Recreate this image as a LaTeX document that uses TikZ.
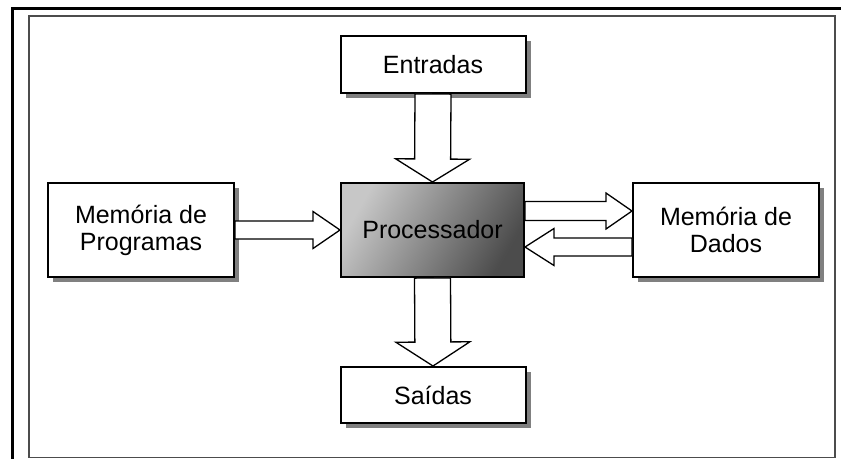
\documentclass[tikz,border=0pt]{standalone}
\usepackage{fontspec}
\setmainfont{Liberation Sans}
\usetikzlibrary{calc,shadows}

\tikzset{
  bloco/.style={draw, line width=2pt, fill=white, inner sep=0pt, align=center,
    minimum width=185pt, minimum height=57pt, font=\fontsize{25}{27}\selectfont,
    drop shadow={shadow xshift=5pt, shadow yshift=-5pt, fill=black!50, opacity=1}},
  cpu/.style={draw, line width=2pt, inner sep=0pt, minimum width=183pt, minimum height=94pt,
    font=\fontsize{25}{27}\selectfont, left color=black!22, right color=black!70, shading angle=60},
  seta/.style={draw, line width=1.3pt, fill=white, line join=miter},
}

% block arrow: from, to, half shaft, half head, head length
\newcommand{\setabloco}[5]{%
  \coordinate (hb) at ($(#2)!#5!(#1)$);
  \draw[seta] ($(#1)!#3!90:(#2)$) -- ($(hb)!#3!-90:(#1)$) -- ($(hb)!#4!-90:(#1)$) -- (#2)
    -- ($(hb)!#4!90:(#1)$) -- ($(hb)!#3!90:(#1)$) -- ($(#1)!#3!-90:(#2)$) -- cycle;}

\begin{document}
\begin{tikzpicture}[x=1pt, y=-1pt]
  \useasboundingbox (0,0) rectangle (841,459);
  % frame
  \draw[line width=2.5pt] (841,8.5) -- (12.5,8.5) -- (12.5,459);
  \draw[line width=1.5pt, black!70] (29,16) rectangle (835,457.5);

  % blocks
  \node[bloco] (ent) at (433,64.5) {Entradas};
  \node[cpu] (proc) at (432.5,230) {Processador};
  \node[bloco, minimum width=186pt, minimum height=94pt] (prog) at (141,230) {Memória de\\Programas};
  \node[bloco, minimum width=186pt, minimum height=94pt] (dados) at (726,230) {Memória de\\Dados};
  \node[bloco, minimum height=56pt] (sai) at (433,395) {Saídas};

  % connectors
  \setabloco{ent.south}{proc.north}{18pt}{37pt}{23pt}
  \setabloco{proc.south}{sai.north}{18pt}{37pt}{24pt}
  \setabloco{prog.east}{proc.west}{9pt}{18.5pt}{27pt}
  \coordinate (pa) at ($(proc.east)+(0,-19)$);
  \coordinate (da) at ($(dados.west)+(0,-19)$);
  \coordinate (pb) at ($(proc.east)+(0,17)$);
  \coordinate (db) at ($(dados.west)+(0,17)$);
  \setabloco{pa}{da}{9.5pt}{18pt}{26pt}
  \setabloco{db}{pb}{9pt}{18.5pt}{29pt}
\end{tikzpicture}
\end{document}
